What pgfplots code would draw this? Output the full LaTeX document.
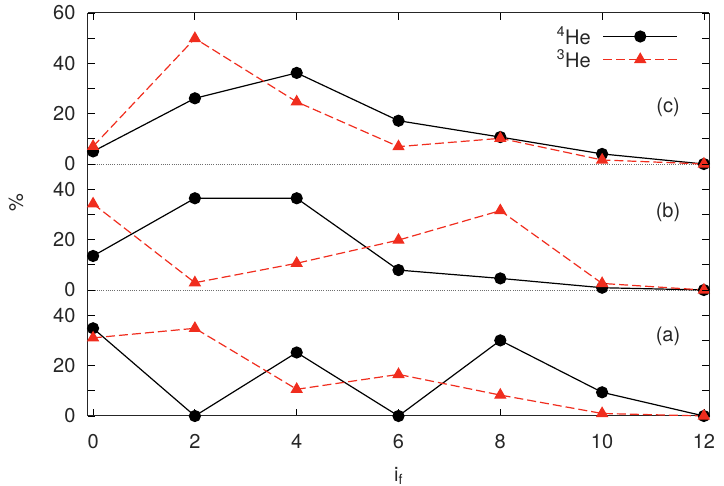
\documentclass[border=0pt]{standalone}
\usepackage{fontspec}
\setmainfont{TeX Gyre Heros}
\usepackage{pgfplots}
\usepackage{pgfplotstable}
\pgfplotsset{compat=1.18}

\definecolor{hered}{RGB}{240,45,30}
\definecolor{zerogray}{RGB}{110,110,110}

% Fractions (%) per final angular momentum, panels (c), (b), (a)
\pgfplotstableread{
x  he4c he3c he4b he3b he4a he3a
0  5.0  7.0  13.5 34.2 34.8 31.0
2  26.1 49.9 36.4 2.9  0.0  34.8
4  36.2 24.7 36.4 10.6 25.2 10.6
6  17.2 6.9  7.9  19.8 0.0  16.5
8  10.7 10.2 4.6  31.5 30.0 8.3
10 4.0  1.6  0.9  2.6  9.4  1.0
12 0.0  0.0  0.0  0.0  0.0  0.0
}\fractions

\newcommand{\lblfont}{\fontsize{20}{23}\selectfont}

\pgfplotsset{
  panel/.style={
    scale only axis, width=621pt,
    xmin=-0.1, xmax=12.1, xtick={0,2,...,12},
    ymin=0,
    axis y line*=box,
    major tick length=7pt, minor tick length=7pt,
    every tick/.style={black, line width=0.8pt},
    axis line style={line width=1pt, black!85},
    tick label style={font=\lblfont, text=black!85},
    label style={font=\lblfont, text=black!85},
    /pgf/number format/assume math mode=true,
    yticklabel style={xshift=-9pt},
    xticklabel style={yshift=-15pt},
    clip=false,
  },
  he4/.style={black, line width=1.2pt, mark=*, mark size=5.5pt},
  he3/.style={hered, line width=1.2pt, dash pattern=on 9pt off 4pt,
              mark=triangle*, mark size=6pt, mark options={solid}},
  zeroline/.style={zerogray, line width=0.8pt, dash pattern=on 1pt off 1.2pt, forget plot},
}

\begin{document}
\begin{tikzpicture}
% top panel (c)
\begin{axis}[panel, name=c, height=151pt,
  axis x line*=top, tick align=inside,
  xticklabels={},
  ymax=60, ytick={0,20,40,60}, minor ytick={10,30,50},
  legend style={draw=none, fill=none, at={(0.955,0.935)}, anchor=north east,
                font=\lblfont, text=black!85, legend cell align=right, row sep=0pt},
  legend plot pos=right,
  legend image code/.code={\draw[mark repeat=2,mark phase=2,#1]
      plot coordinates {(0pt,0pt) (37pt,0pt) (74pt,0pt)};},
]
\addplot[zeroline] coordinates {(-0.1,0) (12.1,0)};
\addplot[he4] table[x=x, y=he4c] {\fractions};
\addlegendentry{\textsuperscript{4}He\kern10pt}
\addplot[he3] table[x=x, y=he3c] {\fractions};
\addlegendentry{\textsuperscript{3}He\kern10pt}
\node[font=\lblfont, text=black!85] at (rel axis cs:0.934,0.377) {(c)};
\end{axis}

% middle panel (b)
\begin{axis}[panel, name=b, at={(c.south west)}, anchor=north west, height=126pt,
  axis x line=none, tick align=inside,
  ymax=50, ytick={0,20,40}, minor ytick={10,30,50},
  ylabel={\%},
  ylabel style={at={(axis description cs:-0.116,0.69)}, anchor=center},
]
\addplot[zeroline] coordinates {(-0.1,0) (12.1,0)};
\addplot[he4] table[x=x, y=he4b] {\fractions};
\addplot[he3] table[x=x, y=he3b] {\fractions};
\node[font=\lblfont, text=black!85] at (rel axis cs:0.934,0.62) {(b)};
\end{axis}

% bottom panel (a)
\begin{axis}[panel, name=a, at={(b.south west)}, anchor=north west, height=126pt,
  axis x line*=bottom, tick align=inside,
  ymax=50, ytick={0,20,40}, minor ytick={10,30,50},
  xlabel={i\textsubscript{f}},
  xlabel style={yshift=-11pt},
]
\addplot[he4] table[x=x, y=he4a] {\fractions};
\addplot[he3] table[x=x, y=he3a] {\fractions};
\node[font=\lblfont, text=black!85] at (rel axis cs:0.934,0.63) {(a)};
\end{axis}

\pgfresetboundingbox
\path[use as bounding box] ([xshift=-88pt,yshift=-70pt]a.south west)
  rectangle ([xshift=15pt,yshift=13pt]c.north east);
\end{tikzpicture}
\end{document}
